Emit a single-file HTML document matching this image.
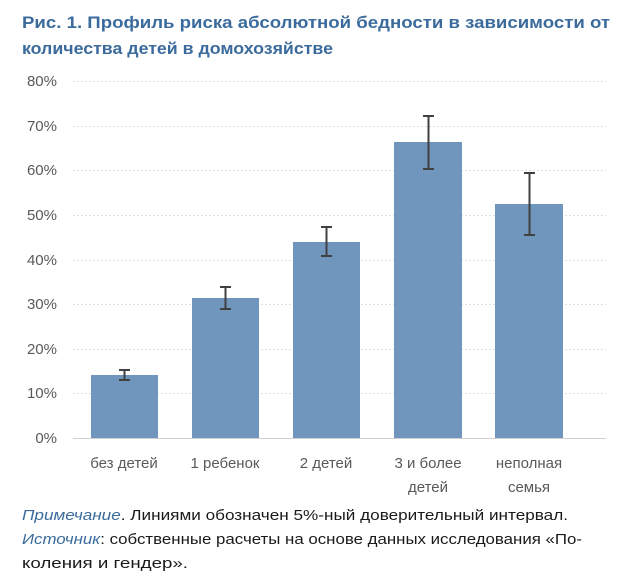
<!DOCTYPE html>
<html><head><meta charset="utf-8"><style>
html,body{margin:0;padding:0;background:#fff;}
svg{display:block;}
</style></head><body>
<svg width="618" height="586" viewBox="0 0 618 586" xmlns="http://www.w3.org/2000/svg" font-family="Liberation Sans, DejaVu Sans, sans-serif">
<text x="22" y="28" font-size="17" font-weight="bold" fill="#3b6b9c" textLength="588" lengthAdjust="spacingAndGlyphs">Рис. 1. Профиль риска абсолютной бедности в зависимости от</text>
<text x="22" y="54" font-size="17" font-weight="bold" fill="#3b6b9c" textLength="311" lengthAdjust="spacingAndGlyphs">количества детей в домохозяйстве</text>
<g stroke="#e0e0e0" stroke-width="1" stroke-dasharray="2,2">
<line x1="73" y1="81.5" x2="606" y2="81.5"/>
<line x1="73" y1="126.5" x2="606" y2="126.5"/>
<line x1="73" y1="170.5" x2="606" y2="170.5"/>
<line x1="73" y1="215.5" x2="606" y2="215.5"/>
<line x1="73" y1="260.5" x2="606" y2="260.5"/>
<line x1="73" y1="304.5" x2="606" y2="304.5"/>
<line x1="73" y1="349.5" x2="606" y2="349.5"/>
<line x1="73" y1="393.5" x2="606" y2="393.5"/>
</g>
<line x1="73" y1="438.5" x2="606" y2="438.5" stroke="#d0d0d0"/>
<g font-size="15" fill="#595959" text-anchor="end">
<text x="57" y="86">80%</text>
<text x="57" y="131">70%</text>
<text x="57" y="175">60%</text>
<text x="57" y="220">50%</text>
<text x="57" y="265">40%</text>
<text x="57" y="309">30%</text>
<text x="57" y="354">20%</text>
<text x="57" y="398">10%</text>
<text x="57" y="443">0%</text>
</g>
<g fill="#7096bd">
<rect x="91" y="375" width="67" height="63"/>
<rect x="192" y="298" width="67" height="140"/>
<rect x="293" y="242" width="67" height="196"/>
<rect x="394" y="142" width="68" height="296"/>
<rect x="495" y="204" width="68" height="234"/>
</g>
<g stroke="#404040" stroke-width="2">
<line x1="124.5" y1="370" x2="124.5" y2="380"/><line x1="119" y1="370" x2="130" y2="370"/><line x1="119" y1="380" x2="130" y2="380"/>
<line x1="225.5" y1="287" x2="225.5" y2="309"/><line x1="220" y1="287" x2="231" y2="287"/><line x1="220" y1="309" x2="231" y2="309"/>
<line x1="326.5" y1="227" x2="326.5" y2="256"/><line x1="321" y1="227" x2="332" y2="227"/><line x1="321" y1="256" x2="332" y2="256"/>
<line x1="428.5" y1="116" x2="428.5" y2="169"/><line x1="423" y1="116" x2="434" y2="116"/><line x1="423" y1="169" x2="434" y2="169"/>
<line x1="529.5" y1="173" x2="529.5" y2="235"/><line x1="524" y1="173" x2="535" y2="173"/><line x1="524" y1="235" x2="535" y2="235"/>
</g>
<g font-size="15" fill="#595959" text-anchor="middle">
<text x="124" y="468">без детей</text>
<text x="225" y="468">1 ребенок</text>
<text x="326" y="468">2 детей</text>
<text x="428" y="468">3 и более</text>
<text x="428" y="492">детей</text>
<text x="529" y="468">неполная</text>
<text x="529" y="492">семья</text>
</g>
<g font-size="15" fill="#1a1a1a">
<text x="22" y="520" textLength="546" lengthAdjust="spacingAndGlyphs"><tspan fill="#3b6b9c" font-style="italic">Примечание</tspan>. Линиями обозначен 5%-ный доверительный интервал.</text>
<text x="22" y="544" textLength="560" lengthAdjust="spacingAndGlyphs"><tspan fill="#3b6b9c" font-style="italic">Источник</tspan>: собственные расчеты на основе данных исследования «По-</text>
<text x="22" y="568" textLength="166" lengthAdjust="spacingAndGlyphs">коления и гендер».</text>
</g>
</svg>
</body></html>
